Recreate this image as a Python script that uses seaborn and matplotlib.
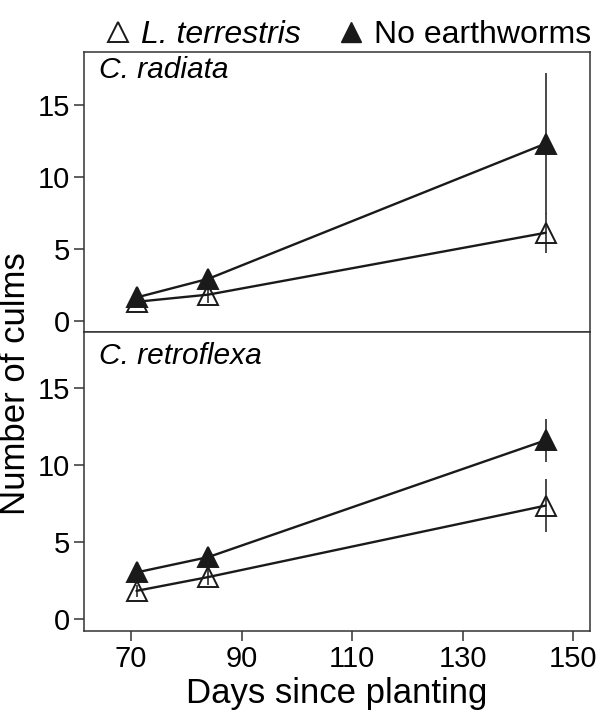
import matplotlib
matplotlib.use("Agg")
import matplotlib.pyplot as plt
import seaborn as sns
import pandas as pd
from matplotlib.lines import Line2D

# days since planting
days = [71, 84, 145]

# C. radiata
rad_lt = [1.3, 1.8, 6.1]
rad_lt_err = [0.2, 0.6, 1.4]
rad_ne = [1.6, 2.9, 12.3]
rad_ne_err = [0.2, 0.3, 4.9]

# C. retroflexa
ret_lt = [1.8, 2.7, 7.35]
ret_lt_err = [0.4, 0.5, 1.7]
ret_ne = [3.0, 4.0, 11.6]
ret_ne_err = [0.2, 0.3, 1.4]

panels = ["C. radiata", "C. retroflexa"]
x_ticks = [70, 90, 110, 130, 150]
y_ticks = [0, 5, 10, 15]

sns.set_theme(style="ticks")
plt.rcParams["font.family"] = ["Liberation Sans", "DejaVu Sans"]
plt.rcParams["text.color"] = "black"
plt.rcParams["xtick.labelcolor"] = "black"
plt.rcParams["ytick.labelcolor"] = "black"
plt.rcParams["axes.labelcolor"] = "black"

spine_col = "#333333"
line_col = "#1a1a1a"


def draw_panel(ax, lt, lt_err, ne, ne_err, title, title_y):
    df = pd.DataFrame({"day": days * 2,
                       "culms": lt + ne,
                       "err": lt_err + ne_err,
                       "group": ["L. terrestris"] * 3 + ["No earthworms"] * 3})
    for grp, face in [("L. terrestris", "none"), ("No earthworms", line_col)]:
        sub = df[df["group"] == grp]
        ax.errorbar(sub["day"], sub["culms"], yerr=sub["err"], fmt="none",
                    ecolor="#3a3a3a", elinewidth=1.3, capsize=0, zorder=2)
        sns.lineplot(data=sub, x="day", y="culms", ax=ax, color=line_col,
                     linewidth=1.7, marker="^", markersize=15,
                     markerfacecolor=face, markeredgecolor=line_col,
                     markeredgewidth=1.4, zorder=3, legend=False)
    ax.text(0.03, title_y, title, transform=ax.transAxes, fontsize=21.5,
            style="italic", va="top", ha="left")
    ax.set_xlim(61.5, 153)
    ax.set_ylim(-0.8, 18.65)
    ax.set_yticks(y_ticks)
    ax.set_ylabel("")
    ax.tick_params(axis="both", labelsize=21, length=7, width=1.1,
                   color=spine_col, direction="out", pad=3)
    for s in ax.spines.values():
        s.set_color(spine_col)
        s.set_linewidth(1.1)
        s.set_visible(True)


fig, (ax1, ax2) = plt.subplots(2, 1, figsize=(6, 7.16), dpi=100, sharex=True,
                               gridspec_kw={"height_ratios": [279, 298], "hspace": 0})
fig.subplots_adjust(left=0.14, right=0.983, top=0.927, bottom=0.119)

draw_panel(ax1, rad_lt, rad_lt_err, rad_ne, rad_ne_err, panels[0], 0.985)
draw_panel(ax2, ret_lt, ret_lt_err, ret_ne, ret_ne_err, panels[1], 0.965)

ax1.tick_params(axis="x", bottom=False, labelbottom=False)
ax1.set_xlabel("")
ax2.set_xticks(x_ticks)
ax2.set_xlabel("Days since planting", fontsize=25, labelpad=3)

fig.text(0.026, 1 - 384 / 716, "Number of culms", rotation=90,
         fontsize=25, va="center", ha="center")

handles = [
    Line2D([], [], linestyle="none", marker="^", markersize=15,
           markerfacecolor="none", markeredgecolor=line_col, markeredgewidth=1.4),
    Line2D([], [], linestyle="none", marker="^", markersize=15,
           markerfacecolor=line_col, markeredgecolor=line_col),
]
leg = fig.legend(handles, ["L. terrestris", "No earthworms"], loc="upper center",
                 bbox_to_anchor=(0.575, 1.012), ncol=2, frameon=False,
                 fontsize=23, handletextpad=0.1, columnspacing=1.0,
                 handlelength=1.2)
leg.get_texts()[0].set_style("italic")

fig.savefig("out.png", dpi=100)
